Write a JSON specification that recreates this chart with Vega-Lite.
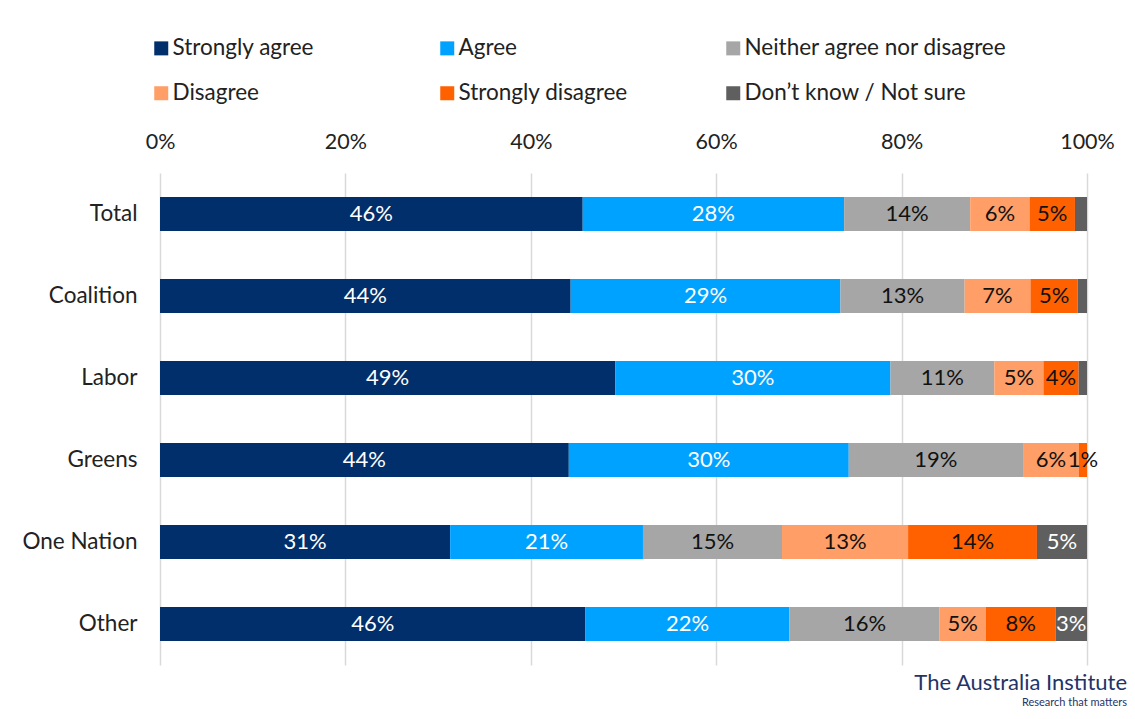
{
  "$schema": "https://vega.github.io/schema/vega-lite/v6.json",
  "autosize": {"type": "none"},
  "width": 927,
  "height": 492,
  "padding": {"left": 160, "top": 173, "right": 48, "bottom": 54},
  "background": "white",
  "config": {"view": {"stroke": null}},
  "title": {
    "text": "The Australia Institute",
    "subtitle": "Research that matters",
    "orient": "bottom",
    "anchor": "end",
    "frame": "group",
    "font": "Lato",
    "fontSize": 22,
    "fontWeight": "normal",
    "color": "#1f3468",
    "subtitleFont": "Lato",
    "subtitleFontSize": 11,
    "subtitleColor": "#1f3468",
    "offset": 8,
    "subtitlePadding": 2,
    "dx": 40
  },
  "data": {
    "values": [
      {"group": "Total", "response": "Strongly agree", "value": 45.6, "label": "46%"},
      {"group": "Total", "response": "Agree", "value": 28.2, "label": "28%"},
      {"group": "Total", "response": "Neither agree nor disagree", "value": 13.6, "label": "14%"},
      {"group": "Total", "response": "Disagree", "value": 6.4, "label": "6%"},
      {"group": "Total", "response": "Strongly disagree", "value": 4.9, "label": "5%"},
      {"group": "Total", "response": "Don’t know / Not sure", "value": 1.3, "label": ""},
      {"group": "Coalition", "response": "Strongly agree", "value": 44.3, "label": "44%"},
      {"group": "Coalition", "response": "Agree", "value": 29.1, "label": "29%"},
      {"group": "Coalition", "response": "Neither agree nor disagree", "value": 13.4, "label": "13%"},
      {"group": "Coalition", "response": "Disagree", "value": 7.1, "label": "7%"},
      {"group": "Coalition", "response": "Strongly disagree", "value": 5.1, "label": "5%"},
      {"group": "Coalition", "response": "Don’t know / Not sure", "value": 1.0, "label": ""},
      {"group": "Labor", "response": "Strongly agree", "value": 49.1, "label": "49%"},
      {"group": "Labor", "response": "Agree", "value": 29.7, "label": "30%"},
      {"group": "Labor", "response": "Neither agree nor disagree", "value": 11.2, "label": "11%"},
      {"group": "Labor", "response": "Disagree", "value": 5.3, "label": "5%"},
      {"group": "Labor", "response": "Strongly disagree", "value": 3.8, "label": "4%"},
      {"group": "Labor", "response": "Don’t know / Not sure", "value": 0.9, "label": ""},
      {"group": "Greens", "response": "Strongly agree", "value": 44.1, "label": "44%"},
      {"group": "Greens", "response": "Agree", "value": 30.2, "label": "30%"},
      {"group": "Greens", "response": "Neither agree nor disagree", "value": 18.8, "label": "19%"},
      {"group": "Greens", "response": "Disagree", "value": 6.0, "label": "6%"},
      {"group": "Greens", "response": "Strongly disagree", "value": 0.9, "label": "1%"},
      {"group": "Greens", "response": "Don’t know / Not sure", "value": 0.0, "label": ""},
      {"group": "One Nation", "response": "Strongly agree", "value": 31.3, "label": "31%"},
      {"group": "One Nation", "response": "Agree", "value": 20.8, "label": "21%"},
      {"group": "One Nation", "response": "Neither agree nor disagree", "value": 15.0, "label": "15%"},
      {"group": "One Nation", "response": "Disagree", "value": 13.6, "label": "13%"},
      {"group": "One Nation", "response": "Strongly disagree", "value": 13.9, "label": "14%"},
      {"group": "One Nation", "response": "Don’t know / Not sure", "value": 5.4, "label": "5%"},
      {"group": "Other", "response": "Strongly agree", "value": 45.9, "label": "46%"},
      {"group": "Other", "response": "Agree", "value": 22.0, "label": "22%"},
      {"group": "Other", "response": "Neither agree nor disagree", "value": 16.2, "label": "16%"},
      {"group": "Other", "response": "Disagree", "value": 5.0, "label": "5%"},
      {"group": "Other", "response": "Strongly disagree", "value": 7.5, "label": "8%"},
      {"group": "Other", "response": "Don’t know / Not sure", "value": 3.4, "label": "3%"}
    ]
  },
  "transform": [
    {"calculate": "indexof(['Strongly agree','Agree','Neither agree nor disagree','Disagree','Strongly disagree','Don’t know / Not sure'], datum.response)", "as": "ord"},
    {"stack": "value", "groupby": ["group"], "sort": [{"field": "ord", "order": "ascending"}], "as": ["x0", "x1"]},
    {"calculate": "(datum.x0 + datum.x1) / 2", "as": "mid"}
  ],
  "encoding": {
    "y": {
      "field": "group",
      "type": "nominal",
      "sort": ["Total", "Coalition", "Labor", "Greens", "One Nation", "Other"],
      "scale": {"paddingInner": 0.585, "paddingOuter": 0.293},
      "axis": {
        "title": null,
        "domain": false,
        "ticks": false,
        "labelFont": "Lato",
        "labelFontSize": 22.5,
        "labelColor": "#222222",
        "labelPadding": 23
      }
    }
  },
  "layer": [
    {
      "mark": {"type": "bar", "strokeWidth": 0},
      "encoding": {
        "x": {
          "field": "x0",
          "type": "quantitative",
          "scale": {"domain": [0, 100], "nice": false},
          "axis": {
            "orient": "top",
            "values": [0, 20, 40, 60, 80, 100],
            "labelExpr": "datum.value + '%'",
            "title": null,
            "domain": false,
            "ticks": false,
            "grid": true,
            "gridColor": "#d9d9d9",
            "gridWidth": 1.5,
            "labelFont": "Lato",
            "labelFontSize": 21.5,
            "labelColor": "#222222",
            "labelPadding": 20,
            "labelFlush": false
          }
        },
        "x2": {"field": "x1"},
        "color": {
          "field": "response",
          "type": "nominal",
          "scale": {
            "domain": ["Strongly agree", "Agree", "Neither agree nor disagree", "Disagree", "Strongly disagree", "Don’t know / Not sure"],
            "range": ["#002f6c", "#00a2ff", "#a6a6a6", "#ff9e66", "#ff6000", "#5f5f5f"]
          },
          "legend": {
            "title": null,
            "orient": "none",
            "legendX": -10,
            "legendY": -136,
            "direction": "horizontal",
            "columns": 3,
            "gridAlign": "all",
            "columnPadding": 1,
            "rowPadding": 22,
            "symbolType": "square",
            "symbolSize": 196,
            "symbolStrokeWidth": 0,
            "labelFont": "Lato",
            "labelFontSize": 22.5,
            "labelColor": "#222222",
            "labelOffset": 0,
            "labelLimit": 400
          }
        }
      }
    },
    {
      "mark": {"type": "text", "font": "Lato", "fontSize": 22, "align": "center", "baseline": "middle"},
      "encoding": {
        "x": {"field": "mid", "type": "quantitative"},
        "text": {"field": "label"},
        "color": {
          "condition": {"test": "datum.ord == 0 || datum.ord == 1 || datum.ord == 5", "value": "#ffffff"},
          "value": "#111111"
        }
      }
    }
  ]
}
